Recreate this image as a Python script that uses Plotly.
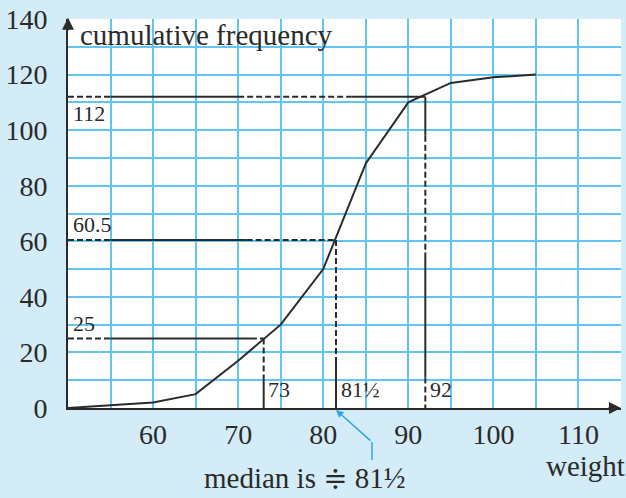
import plotly.graph_objects as go

# ---- data ----
weights = [50, 55, 60, 65, 70, 75, 80, 85, 90, 95, 100, 105]
cum_freq = [0, 1, 2, 5, 17, 30, 50, 88, 110, 117, 119, 120]

x_tick_vals = [50, 55, 60, 65, 70, 75, 80, 85, 90, 95, 100, 105, 110, 115]
x_tick_text = ["", "", "60", "", "70", "", "80", "", "90", "", "100", "", "110", ""]
y_tick_vals = [0, 10, 20, 30, 40, 50, 60, 70, 80, 90, 100, 110, 120, 130, 140]
y_tick_text = ["0", "", "20", "", "40", "", "60", "", "80", "", "100", "", "120", "", "140"]

guide_y = [25, 60.5, 112]          # lower quartile, median, upper quartile positions
guide_x = [73, 81.5, 92]           # read-off weights
guide_y_labels = ["25", "60.5", "112"]
guide_x_labels = ["73", "81½", "92"]

# dash / solid alternation along each guide (as drawn in the source)
h_breaks = [[50, 55, 71.5, 73], [50, 55, 71, 81.5], [50, 55, 70, 83.3, 92]]
h_styles = [["d", "s", "d"], ["d", "s", "d"], ["d", "s", "d", "s"]]
v_breaks = [[25, 10, 0], [60.5, 18, 0], [112, 98, 56, 11, 0]]
v_styles = [["d", "s"], ["d", "s"], ["s", "d", "s", "d"]]

XMIN, XMAX, YMIN, YMAX = 50, 115, 0, 140
FONT = "Liberation Serif, Times New Roman, DejaVu Serif, serif"
TXT = "#2a2a2a"
LINE = "#2b2b2b"
GRID = "#5EC6F0"
BG = "#D3ECF8"

fig = go.Figure()

# guide lines
for i in range(len(guide_y)):
    hb = h_breaks[i]
    for j, st in enumerate(h_styles[i]):
        fig.add_trace(go.Scatter(x=[hb[j], hb[j + 1]], y=[guide_y[i], guide_y[i]],
                                 mode="lines", showlegend=False, hoverinfo="skip",
                                 line=dict(color=LINE, width=2,
                                           dash="solid" if st == "s" else "6px,3px")))
    vb = v_breaks[i]
    for j, st in enumerate(v_styles[i]):
        fig.add_trace(go.Scatter(x=[guide_x[i], guide_x[i]], y=[vb[j], vb[j + 1]],
                                 mode="lines", showlegend=False, hoverinfo="skip",
                                 line=dict(color=LINE, width=2,
                                           dash="solid" if st == "s" else "6px,3px")))

# cumulative frequency curve
fig.add_trace(go.Scatter(x=weights, y=cum_freq, mode="lines", showlegend=False,
                         line=dict(color=LINE, width=2)))

annotations = []
# guide labels
for i in range(len(guide_y)):
    yoff = 5.5 if i < 2 else -6
    annotations.append(dict(x=50.3, y=guide_y[i] + yoff, xref="x", yref="y",
                            text=guide_y_labels[i], showarrow=False, xanchor="left",
                            font=dict(family=FONT, size=22, color=TXT)))
    annotations.append(dict(x=guide_x[i] + 0.3, y=6.5, xref="x", yref="y",
                            text=guide_x_labels[i], showarrow=False, xanchor="left",
                            font=dict(family=FONT, size=22, color=TXT)))

annotations.append(dict(x=51.2, y=134.3, xref="x", yref="y", text="cumulative frequency",
                        showarrow=False, xanchor="left",
                        font=dict(family=FONT, size=29, color=TXT)))
annotations.append(dict(x=0.935, y=-0.149, xref="paper", yref="paper", text="weight",
                        showarrow=False, xanchor="center", yanchor="middle",
                        font=dict(family=FONT, size=29, color=TXT)))
annotations.append(dict(x=0.4286, y=-0.18, xref="paper", yref="paper",
                        text="median is ≑ 81½", showarrow=False,
                        xanchor="center", yanchor="middle",
                        font=dict(family=FONT, size=29, color=TXT)))
# blue pointer to median
annotations.append(dict(x=guide_x[1], y=-0.005, xref="x", yref="paper", ax=36, ay=32,
                        axref="pixel", ayref="pixel", showarrow=True, arrowhead=2,
                        arrowsize=1, arrowwidth=1.5, arrowcolor="#29A8E0", text=""))
# axis arrowheads
annotations.append(dict(x=0, y=1.003, xref="paper", yref="paper", ax=0, ay=14,
                        showarrow=True, arrowhead=2, arrowsize=1.2, arrowwidth=2,
                        arrowcolor=LINE, text=""))
annotations.append(dict(x=1.0, y=0, xref="paper", yref="paper", ax=-14, ay=0,
                        showarrow=True, arrowhead=2, arrowsize=1.2, arrowwidth=2,
                        arrowcolor=LINE, text=""))

shapes = [dict(type="line", xref="paper", yref="paper", x0=0.5497, x1=0.5497,
               y0=-0.0874, y1=-0.1337, line=dict(color="#29A8E0", width=1.5))]

fig.update_layout(
    width=626, height=498,
    margin=dict(l=68, r=5, t=19, b=90),
    paper_bgcolor=BG, plot_bgcolor="white",
    annotations=annotations, shapes=shapes,
    xaxis=dict(range=[XMIN, XMAX], tickvals=x_tick_vals, ticktext=x_tick_text,
               showgrid=True, gridcolor=GRID, gridwidth=2, zeroline=False,
               showline=True, linecolor=LINE, linewidth=2, ticks="",
               ticklabelstandoff=0, automargin=False,
               tickfont=dict(family=FONT, size=28, color=TXT)),
    yaxis=dict(range=[YMIN, YMAX], tickvals=y_tick_vals, ticktext=y_tick_text,
               showgrid=True, gridcolor=GRID, gridwidth=2, zeroline=False,
               showline=True, linecolor=LINE, linewidth=2, ticks="",
               ticklabelstandoff=13, automargin=False,
               tickfont=dict(family=FONT, size=28, color=TXT)),
)

fig.write_html(
    "out.html",
    config={"displayModeBar": False},
    post_script="document.body.style.margin='0';document.body.style.padding='0';"
                "document.body.style.background='#D3ECF8';",
)
